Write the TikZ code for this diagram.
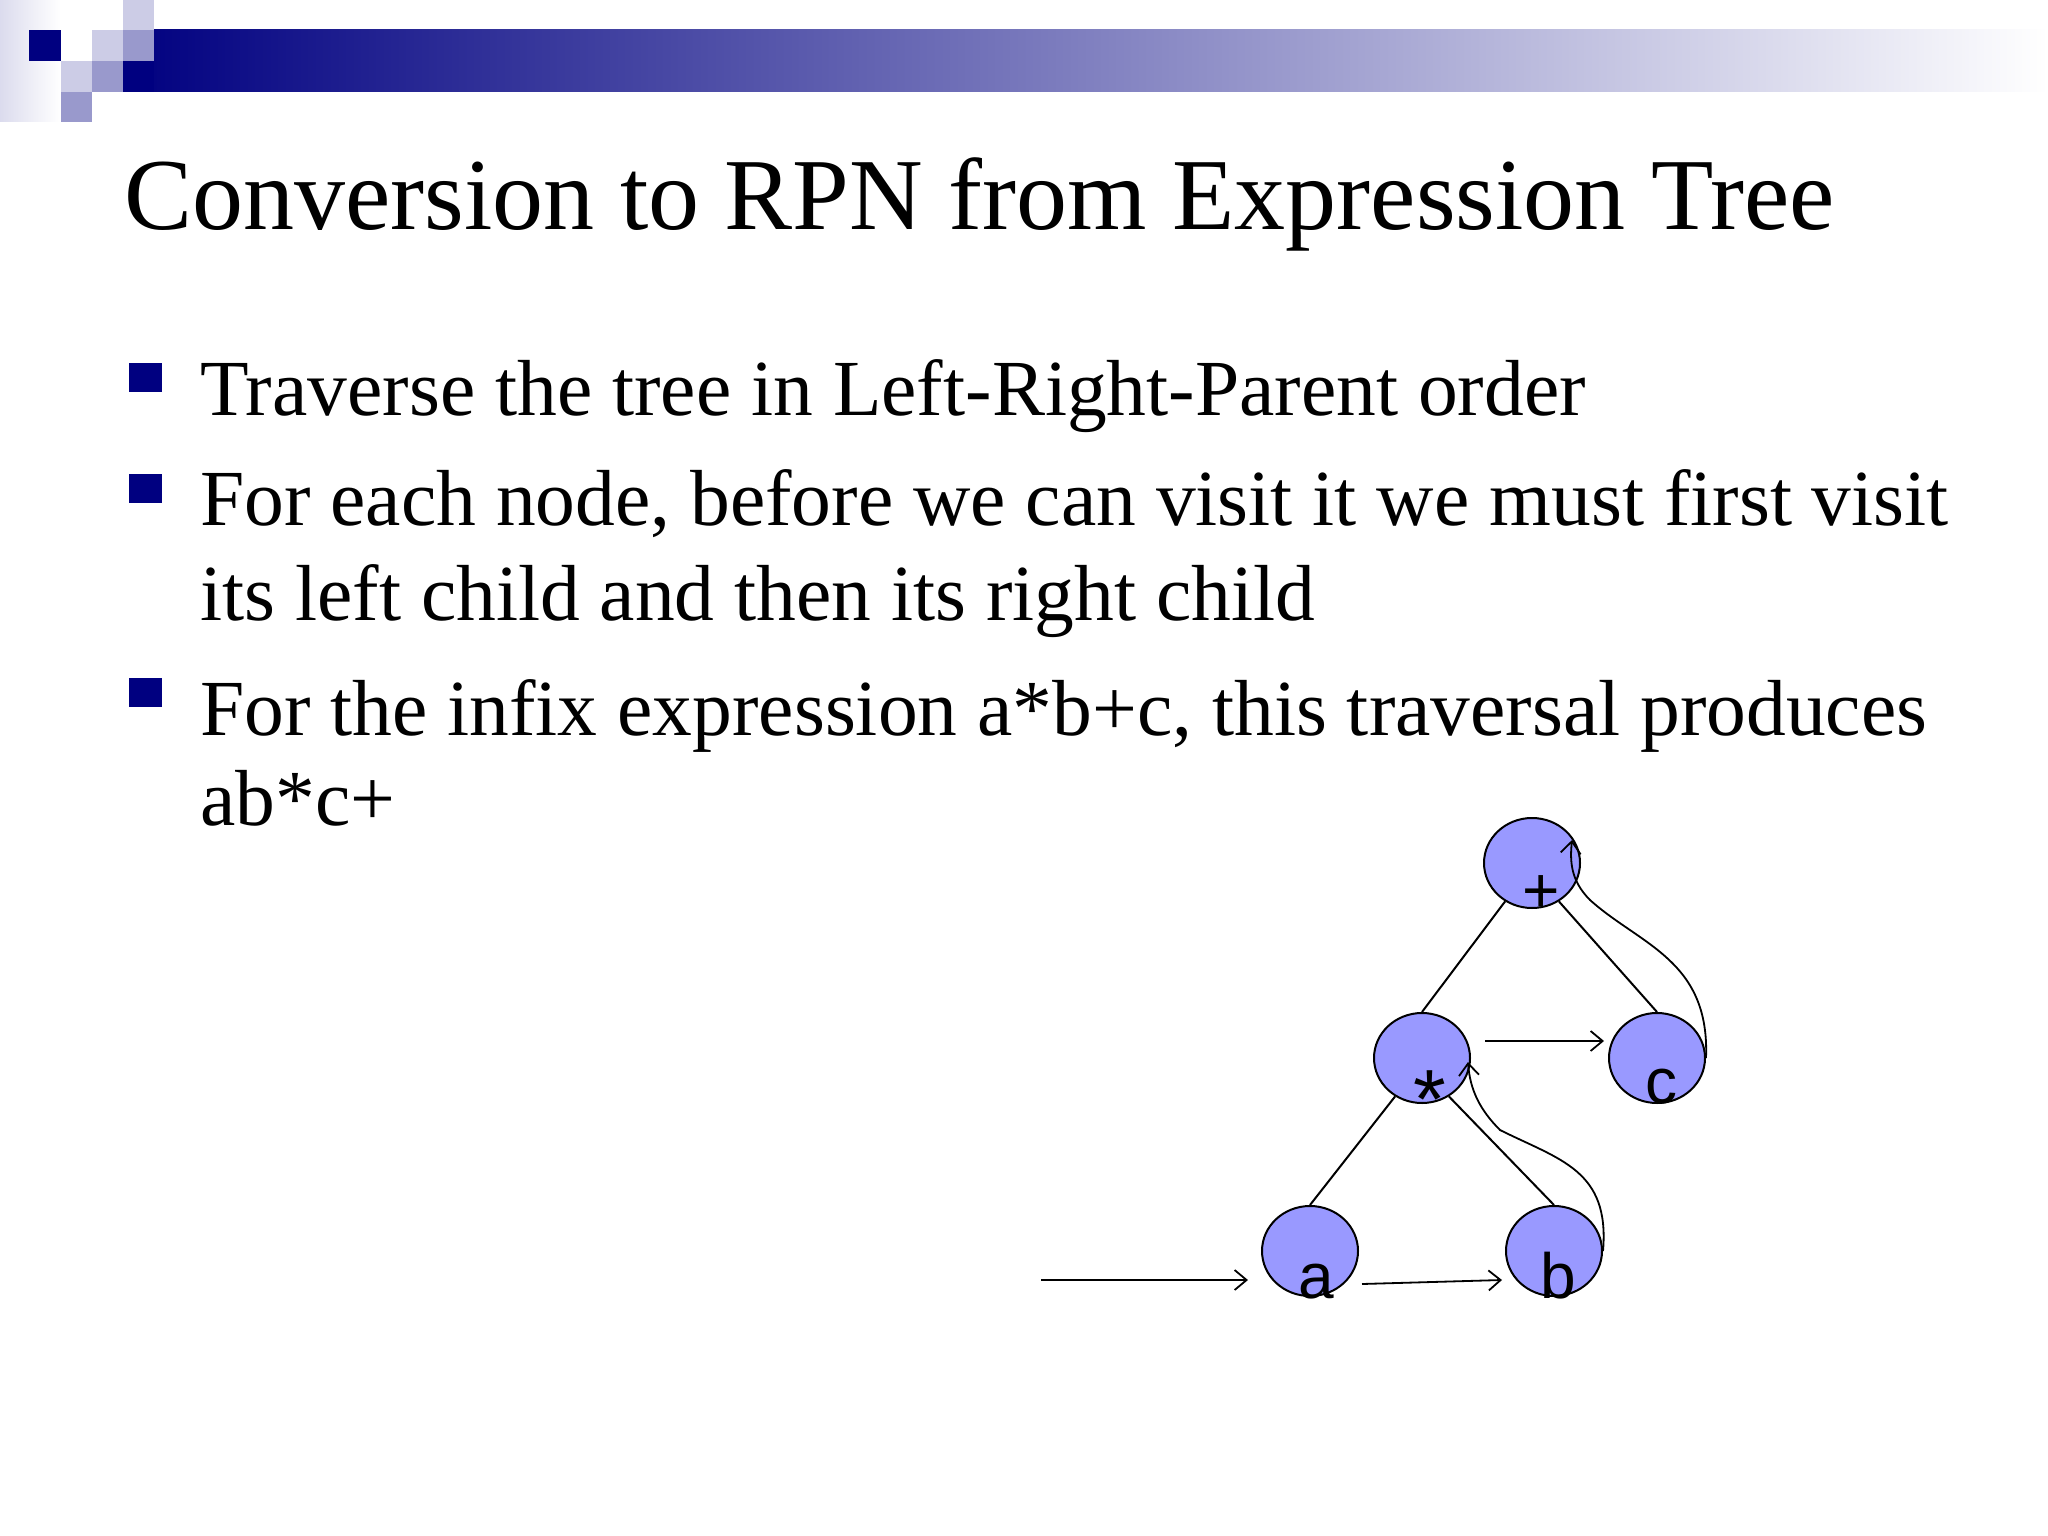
\documentclass[tikz,border=0pt]{standalone}
\usepackage{fontspec}
\setmainfont{Liberation Serif}
\newfontfamily\arialf{Liberation Sans}
\usetikzlibrary{arrows.meta,shapes.geometric}
\definecolor{navy}{RGB}{0,0,128}
\definecolor{lightsq}{RGB}{204,204,230}
\definecolor{medsq}{RGB}{153,153,204}
\definecolor{nodefill}{RGB}{153,153,255}
\begin{document}
\begin{tikzpicture}[x=1pt,y=-1pt,
  tnode/.style={ellipse,draw=black,line width=2pt,fill=nodefill,minimum width=96pt,minimum height=90pt,inner sep=0pt},
  tlabel/.style={font=\arialf\fontsize{64}{64}\selectfont,anchor=base},
  edge/.style={line width=2pt},
  arr/.style={line width=1.8pt,-{Straight Barb[length=12pt,width=20pt]}},
  btext/.style={anchor=base west,font=\fontsize{79.5}{90}\selectfont,inner sep=0pt},
  bsq/.style={fill=navy}]
\useasboundingbox (0,0) rectangle (2048,1536);
\fill[white] (0,0) rectangle (2048,1536);
% top decoration
\shade[left color=lightsq!70,right color=white] (0,0) rectangle (60,122);
\shade[left color=navy,right color=white] (123,30) rectangle (2048,92);
\fill[navy] (29,30) rectangle (61,61);
\fill[lightsq] (123,0) rectangle (154,30);
\fill[lightsq] (92,30) rectangle (123,61);
\fill[medsq] (123,30) rectangle (154,61);
\fill[navy] (123,61) rectangle (154,92);
\fill[lightsq] (61,61) rectangle (92,92);
\fill[medsq] (92,61) rectangle (123,92);
\fill[medsq] (61,92) rectangle (92,122);
% title
\node[anchor=base west,inner sep=0pt,font=\fontsize{102}{110}\selectfont] (title) at (124,229) {Conversion to RPN from Expression Tree};
% bullets
\fill[bsq] (129,363) rectangle (162,392);
\fill[bsq] (129,474) rectangle (162,503);
\fill[bsq] (129,678) rectangle (162,707);
\node[btext] (b1) at (200,415) {Traverse the tree in Left-Right-Parent order};
\node[btext] (b2) at (200,525) {For each node, before we can visit it we must first visit};
\node[btext] (b2b) at (200,620) {its left child and then its right child};
\node[btext] (b3) at (200,735) {For the infix expression a*b+c, this traversal produces};
\node[btext] (b3b) at (200,825) {ab*c+};
% tree
\node[tnode] (plus) at (1532,863) {};
\node[tnode] (star) at (1422,1058) {};
\node[tnode] (c) at (1657,1058) {};
\node[tnode] (a) at (1310,1251) {};
\node[tnode] (b) at (1554,1251) {};
\node[tlabel] at (1541,912) {+};
\node[tlabel,font=\arialf\fontsize{84}{84}\selectfont] at (1430,1128) {*};
\node[tlabel] at (1661,1103) {c};
\node[tlabel] at (1316,1298) {a};
\node[tlabel] at (1558,1298) {b};
\draw[edge] (plus.235) -- (star.north);
\draw[edge] (plus.-55) -- (c.north);
\draw[edge] (star.235) -- (a.north);
\draw[edge] (star.-55) -- (b.north);
\coordinate (s0) at (1041,1280);
\coordinate (s1) at (1248,1280);
\coordinate (ab0) at (1362,1284);
\coordinate (ab1) at (1502,1280);
\coordinate (sc0) at (1485,1041);
\coordinate (sc1) at (1604,1041);
\draw[arr] (s0) -- (s1);
\draw[arr] (ab0) -- (ab1);
\draw[arr] (sc0) -- (sc1);
\draw[arr] (c.east) .. controls (1710,960) and (1640,945) .. (1590,900) .. controls (1570,880) and (1570,860) .. (1572,840);
\draw[arr] (b.east) .. controls (1610,1170) and (1560,1160) .. (1500,1130) .. controls (1480,1110) and (1470,1090) .. (1468,1062);
\end{tikzpicture}
\end{document}
